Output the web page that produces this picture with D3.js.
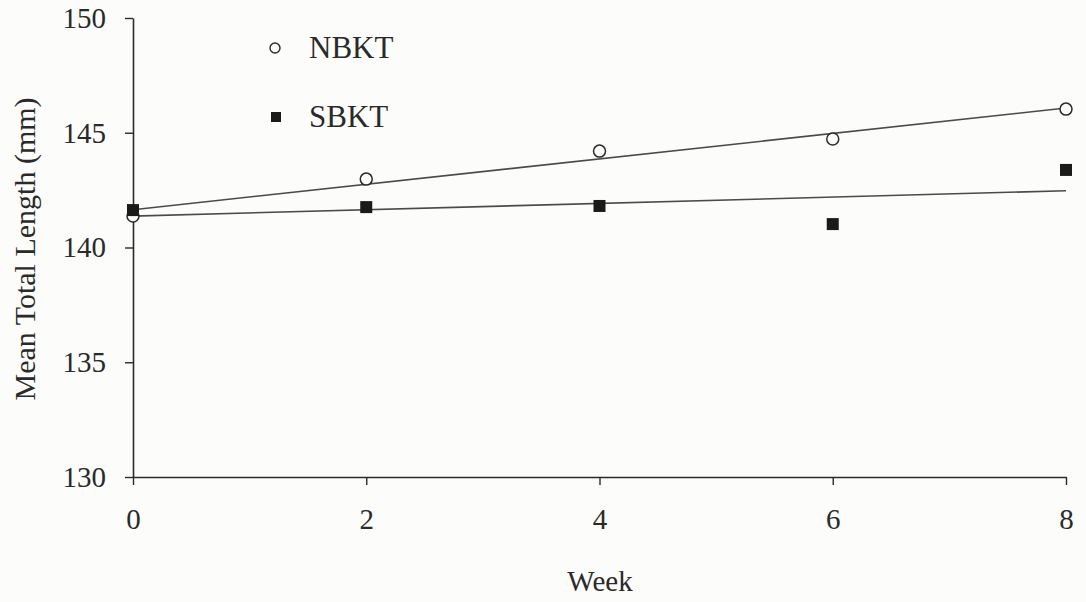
<!DOCTYPE html>
<html><head><meta charset="utf-8">
<script src="https://cdn.jsdelivr.net/npm/d3@7/dist/d3.min.js"></script>
<style>html,body{margin:0;padding:0;background:#fcfcfa;}svg{display:block;}</style>
</head><body>
<svg id="c" width="1086" height="602"></svg>
<script>
const weeks = [0, 2, 4, 6, 8];
const nbkt = [141.37, 142.98, 144.2, 144.73, 146.03];
const sbkt = [141.63, 141.76, 141.81, 141.02, 143.38];
const xTicks = [0, 2, 4, 6, 8];
const yTicks = [130, 135, 140, 145, 150];
const seriesNames = ["NBKT", "SBKT"];

const svg = d3.select("#c");
const font = "'Liberation Serif', 'Times New Roman', serif";
const ink = "#2a2a2a";
const x = d3.scaleLinear().domain([0, 8]).range([133, 1066]);
const y = d3.scaleLinear().domain([130, 150]).range([477, 18]);

function fit(xs, ys) {
  const mx = d3.mean(xs), my = d3.mean(ys);
  let num = 0, den = 0;
  xs.forEach((v, i) => { num += (v - mx) * (ys[i] - my); den += (v - mx) ** 2; });
  const b = num / den;
  return [my - b * mx, b];
}

// axes
const yAxis = svg.append("g").attr("transform", `translate(${x(0)},0)`)
  .call(d3.axisLeft(y).tickValues(yTicks).tickSize(8).tickPadding(19).tickSizeOuter(0));
const xAxis = svg.append("g").attr("transform", `translate(0,${y(130)})`)
  .call(d3.axisBottom(x).tickValues(xTicks).tickSize(8).tickPadding(23).tickSizeOuter(0));
[yAxis, xAxis].forEach(g => {
  g.select(".domain").attr("stroke", ink).attr("stroke-width", 1.6);
  g.selectAll(".tick line").attr("stroke", ink).attr("stroke-width", 1.4);
  g.selectAll(".tick text").attr("fill", ink).style("font-family", font).style("font-size", "29px");
});

// regression lines
[nbkt, sbkt].forEach(vals => {
  const [a, b] = fit(weeks, vals);
  svg.append("line")
    .attr("x1", x(0)).attr("y1", y(a))
    .attr("x2", x(8)).attr("y2", y(a + b * 8))
    .attr("stroke", "#4a4a4a").attr("stroke-width", 1.6);
});

// markers
svg.append("g").selectAll("circle").data(weeks).join("circle")
  .attr("cx", d => x(d)).attr("cy", (d, i) => y(nbkt[i])).attr("r", 6)
  .attr("fill", "#fcfcfa").attr("stroke", ink).attr("stroke-width", 1.5);
svg.append("g").selectAll("rect").data(weeks).join("rect")
  .attr("x", d => x(d) - 6).attr("y", (d, i) => y(sbkt[i]) - 6)
  .attr("width", 12).attr("height", 12).attr("fill", "#1a1a1a");

// legend
svg.append("circle").attr("cx", 275).attr("cy", 48).attr("r", 5)
  .attr("fill", "none").attr("stroke", ink).attr("stroke-width", 1.4);
svg.append("rect").attr("x", 271).attr("y", 112).attr("width", 10).attr("height", 10).attr("fill", "#1a1a1a");
svg.append("text").attr("x", 309).attr("y", 58).text(seriesNames[0])
  .attr("fill", ink).style("font-family", font).style("font-size", "31px");
svg.append("text").attr("x", 309).attr("y", 127).text(seriesNames[1])
  .attr("fill", ink).style("font-family", font).style("font-size", "31px");

// axis titles
svg.append("text").attr("x", 600).attr("y", 591).attr("text-anchor", "middle")
  .text("Week").attr("fill", ink).style("font-family", font).style("font-size", "29px");
svg.append("text").attr("transform", "translate(35,249) rotate(-90)").attr("text-anchor", "middle")
  .text("Mean Total Length (mm)").attr("fill", ink).style("font-family", font).style("font-size", "30px");
</script>
</body></html>
